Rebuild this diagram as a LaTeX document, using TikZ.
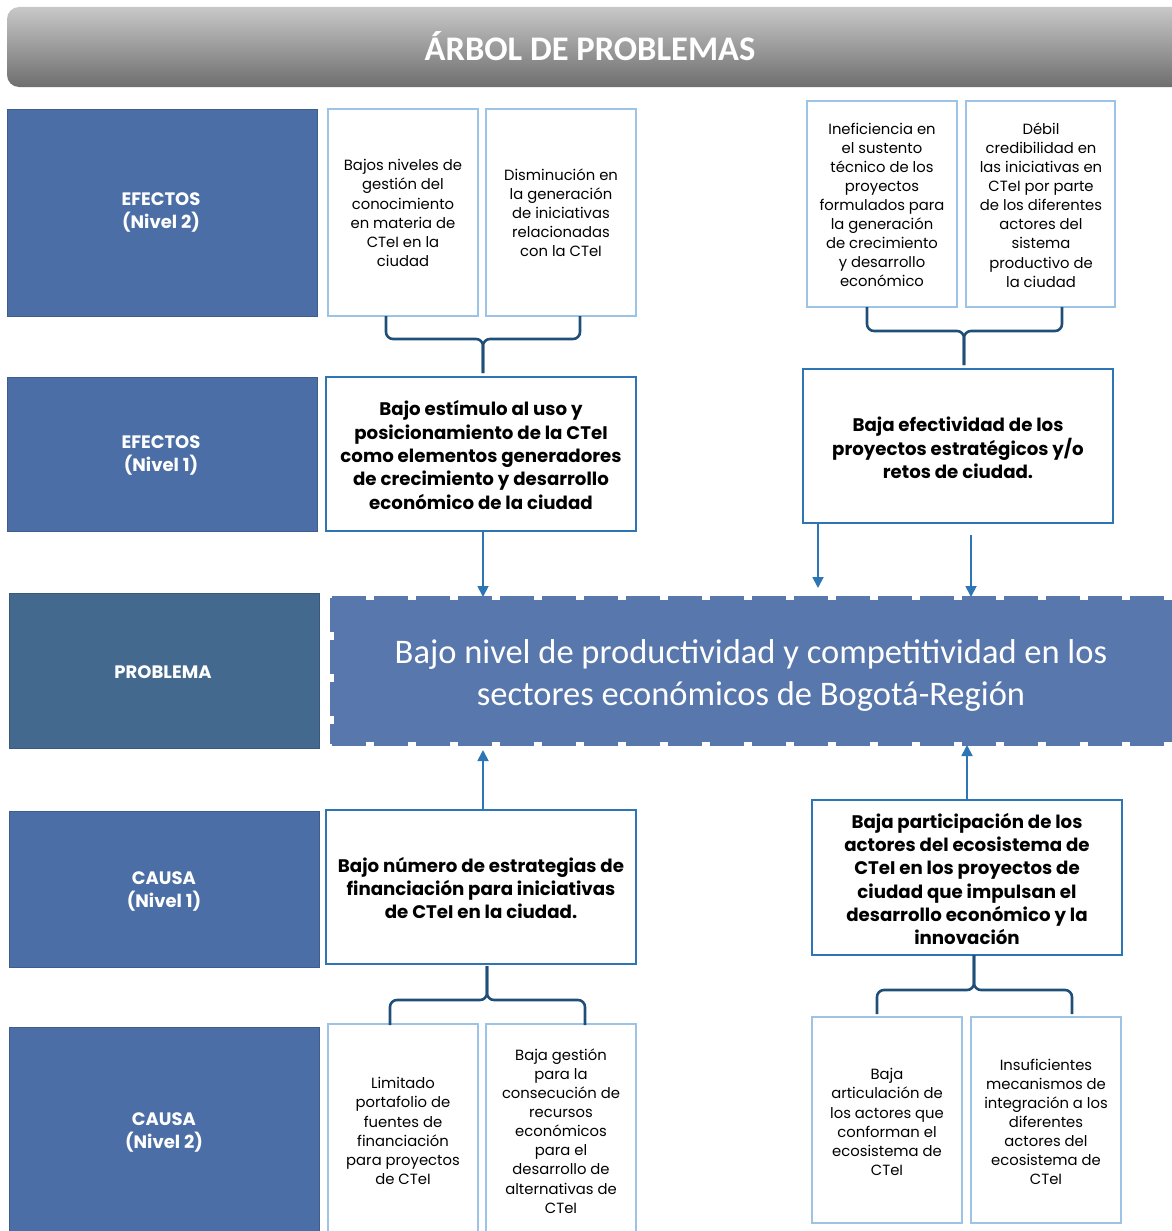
\documentclass[tikz,border=0pt]{standalone}
\usepackage{fontspec}
\setmainfont{Poppins}
\newfontfamily\calfont{Carlito}
\usetikzlibrary{arrows.meta,calc}
\definecolor{labelblue}{HTML}{4A6EA5}
\definecolor{problabel}{HTML}{44698F}
\definecolor{probfill}{HTML}{5877AD}
\definecolor{lightedge}{HTML}{9DC3E6}
\definecolor{midedge}{HTML}{2E75B6}
\definecolor{bracecol}{HTML}{1F4E79}
\definecolor{titletop}{HTML}{C8C8C8}
\definecolor{titlebot}{HTML}{6E6E6E}
\begin{document}
\begin{tikzpicture}[x=1pt,y=-1pt,
  labelbox/.style={fill=labelblue,draw=labelblue!85!black,line width=1pt,text=white,align=center,inner sep=0pt,
     font=\bfseries\fontsize{18}{23}\selectfont},
  smallbox/.style={draw=lightedge,line width=2.5pt,fill=white},
  smalltext/.style={align=center,inner sep=0pt,font=\fontsize{14.8}{19.1}\selectfont,text=black},
  midbox/.style={draw=midedge,line width=2pt,fill=white},
  midtext/.style={align=center,inner sep=0pt,font=\bfseries\fontsize{18.2}{23.3}\selectfont,text=black},
  bracepath/.style={draw=bracecol,line width=2.6pt,rounded corners=7pt},
  arr/.style={draw=midedge,line width=1.8pt,-{Triangle[length=11pt,width=11pt]}}]
\useasboundingbox (0,0) rectangle (1171,1231);
% title
\shade[top color=titletop,bottom color=titlebot,rounded corners=12pt] (7,7) rectangle (1185,87);
\node[text=white,font=\calfont\bfseries\fontsize{34.5}{40}\selectfont] (title) at (590,46) {ÁRBOL DE PROBLEMAS};
% left labels
\path[labelbox] (7,109) rectangle (317,316);
\node[labelbox,fill=none,draw=none] (lab1) at (161,212) {EFECTOS\\(Nivel 2)};
\path[labelbox] (7,377) rectangle (317,531);
\node[labelbox,fill=none,draw=none] (lab2) at (161,455) {EFECTOS\\(Nivel 1)};
\path[labelbox,fill=problabel,draw=problabel!85!black] (9,593) rectangle (319,748);
\node[labelbox,fill=none,draw=none] (lab3) at (163,672) {PROBLEMA};
\path[labelbox] (9,811) rectangle (319,967);
\node[labelbox,fill=none,draw=none] (lab4) at (164,891) {CAUSA\\(Nivel 1)};
\path[labelbox] (9,1027) rectangle (319,1240);
\node[labelbox,fill=none,draw=none] (lab5) at (164,1132) {CAUSA\\(Nivel 2)};
% small boxes
\draw[smallbox] (328,109) rectangle (478,316);
\node[smalltext] (A) at (403,213) {Bajos niveles de\\gestión del\\conocimiento\\en materia de\\CTeI en la\\ciudad};
\draw[smallbox] (486,109) rectangle (636,316);
\node[smalltext] (B) at (561,213) {Disminución en\\la generación\\de iniciativas\\relacionadas\\con la CTeI};
\draw[smallbox] (807,101) rectangle (957,307);
\node[smalltext] (C) at (882,205) {Ineficiencia en\\el sustento\\técnico de los\\proyectos\\formulados para\\la generación\\de crecimiento\\y desarrollo\\económico};
\draw[smallbox] (966,101) rectangle (1115,307);
\node[smalltext] (D) at (1041,205) {Débil\\credibilidad en\\las iniciativas en\\CTeI por parte\\de los diferentes\\actores del\\sistema\\productivo de\\la ciudad};
\draw[smallbox] (328,1024) rectangle (478,1240);
\node[smalltext] (E) at (403,1131) {Limitado\\portafolio de\\fuentes de\\financiación\\para proyectos\\de CTeI};
\draw[smallbox] (486,1024) rectangle (636,1240);
\node[smalltext] (F) at (561,1131) {Baja gestión\\para la\\consecución de\\recursos\\económicos\\para el\\desarrollo de\\alternativas de\\CTeI};
\draw[smallbox] (812,1017) rectangle (962,1223);
\node[smalltext] (G) at (887,1122) {Baja\\articulación de\\los actores que\\conforman el\\ecosistema de\\CTeI};
\draw[smallbox] (971,1017) rectangle (1121,1223);
\node[smalltext] (H) at (1046,1122) {Insuficientes\\mecanismos de\\integración a los\\diferentes\\actores del\\ecosistema de\\CTeI};
% mid boxes
\draw[midbox] (326,377) rectangle (636,531);
\node[midtext] (E1L) at (481,455) {Bajo estímulo al uso y\\posicionamiento de la CTeI\\como elementos generadores\\de crecimiento y desarrollo\\económico de la ciudad};
\draw[midbox] (803,369) rectangle (1113,523);
\node[midtext] (E1R) at (958,448) {Baja efectividad de los\\proyectos estratégicos y/o\\retos de ciudad.};
\draw[midbox] (326,810) rectangle (636,964);
\node[midtext] (C1L) at (481,888) {Bajo número de estrategias de\\financiación para iniciativas\\de CTeI en la ciudad.};
\draw[midbox] (812,800) rectangle (1122,955);
\node[midtext] (C1R) at (967,879) {Baja participación de los\\actores del ecosistema de\\CTeI en los proyectos de\\ciudad que impulsan el\\desarrollo económico y la\\innovación};
% problem
\fill[probfill] (334,600) rectangle (1175,742);
\draw[probfill,line width=4pt,dash pattern=on 34pt off 8pt] (332,598) -- (1175,598) (332,744) -- (1175,744) (332,598) -- (332,744);
\node[text=white,align=center,font=\calfont\fontsize{34.5}{42}\selectfont] (P) at (751,675) {Bajo nivel de productividad y competitividad en los\\sectores económicos de Bogotá-Región};
% coordinates
\coordinate (pTopL) at (483,597);
\coordinate (pTopR1) at (818,588);
\coordinate (pTopR2) at (971,597);
\coordinate (pBotL) at (483,750);
\coordinate (pBotR) at (967,745);
% braces
\draw[bracepath] (386,316) -- (386,339) -- (483,339) -- (483,373);
\draw[bracepath] (580,316) -- (580,339) -- (483,339) -- (483,373);
\draw[bracepath] (867,307) -- (867,331) -- (964,331) -- (964,365);
\draw[bracepath] (1062,307) -- (1062,331) -- (964,331) -- (964,365);
\draw[bracepath] (487,966) -- (487,1000) -- (390,1000) -- (390,1025);
\draw[bracepath] (487,966) -- (487,1000) -- (585,1000) -- (585,1025);
\draw[bracepath] (974,955) -- (974,990) -- (877,990) -- (877,1014);
\draw[bracepath] (974,955) -- (974,990) -- (1072,990) -- (1072,1014);
% arrows
\draw[arr] (483,532) -- (pTopL);
\draw[arr] (818,524) -- (pTopR1);
\draw[arr] (971,535) -- (pTopR2);
\draw[arr] (483,809) -- (pBotL);
\draw[arr] (967,799) -- (pBotR);
\end{tikzpicture}
\end{document}
